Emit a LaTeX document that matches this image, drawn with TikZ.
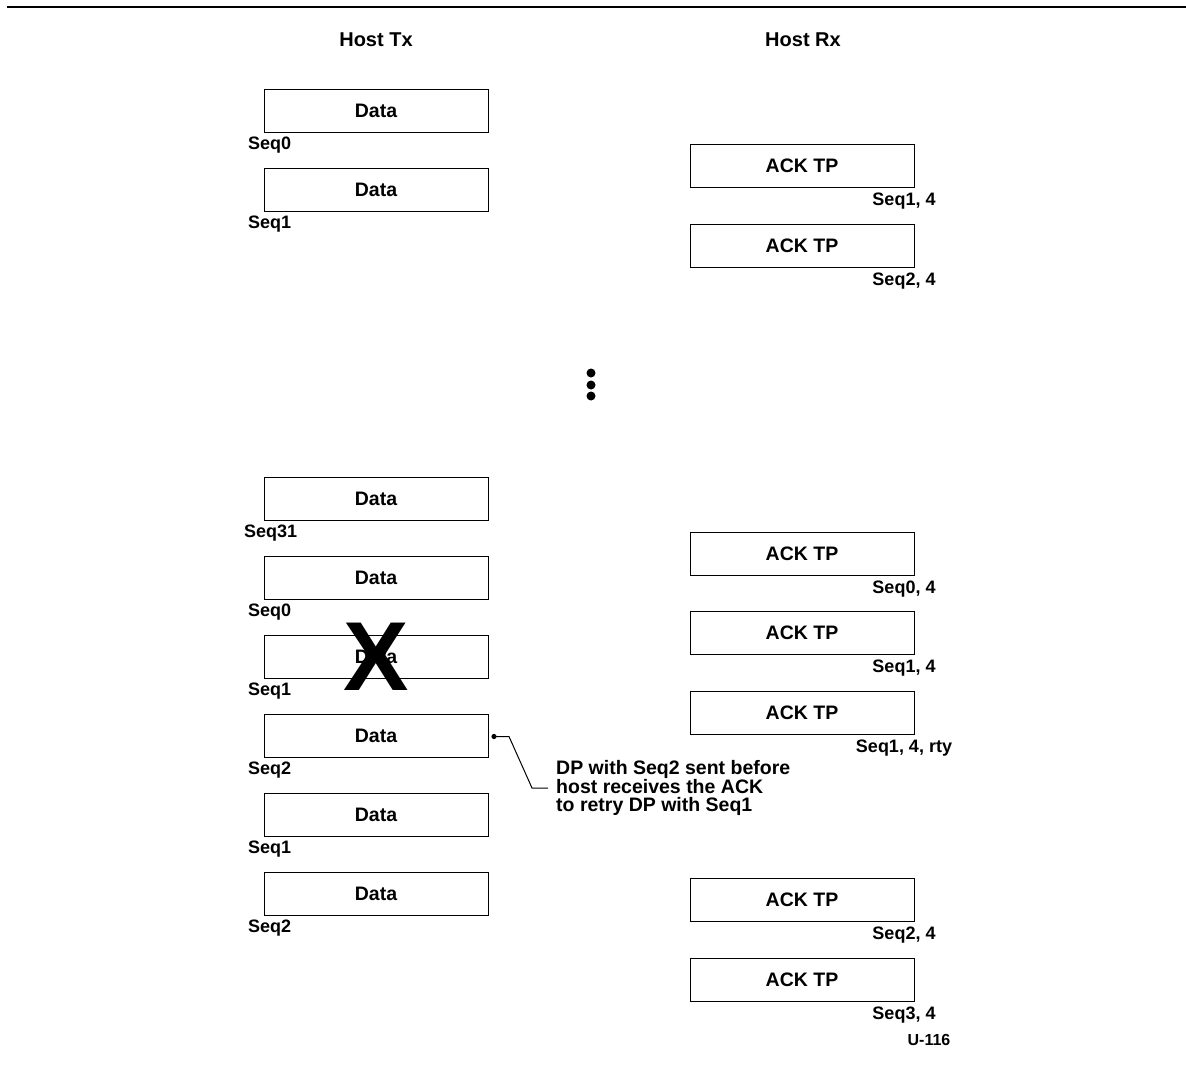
\documentclass[tikz,border=0pt]{standalone}
\usepackage{fontspec}
\setmainfont{Liberation Sans}
\begin{document}
\begin{tikzpicture}[x=1pt,y=-1pt,
  databox/.style={draw,line width=1pt,minimum width=224pt,minimum height=43pt,inner sep=0pt,font=\bfseries\fontsize{19.5}{19.5}\selectfont},
  seqlbl/.style={anchor=west,inner sep=0pt,font=\bfseries\fontsize{18}{18}\selectfont},
  acklbl/.style={anchor=center,inner sep=0pt,font=\bfseries\fontsize{18}{18}\selectfont},
  hdr/.style={inner sep=0pt,font=\bfseries\fontsize{20}{20}\selectfont},
  dotm/.style={circle,fill=black,inner sep=0pt,minimum size=9pt}]
\useasboundingbox (0,0) rectangle (1186,1068);
\draw[line width=2.2pt] (7,7) -- (1186,7);
\node[hdr] (htx) at (376,40) {Host Tx};
\node[hdr] (hrx) at (803,40) {Host Rx};
% Tx data boxes
\node[databox] (d1) at (376,110.5) {Data};
\node[seqlbl] (s1) at (248,145) {Seq0};
\node[databox] (d2) at (376,189.5) {Data};
\node[seqlbl] (s2) at (248,224) {Seq1};
\node[databox] (d3) at (376,498.5) {Data};
\node[seqlbl] (s3) at (244,533) {Seq31};
\node[databox] (d4) at (376,577.5) {Data};
\node[seqlbl] (s4) at (248,612) {Seq0};
\node[databox] (d5) at (376,656.5) {Data};
\node[seqlbl] (s5) at (248,691) {Seq1};
\node[databox] (d6) at (376,735.5) {Data};
\node[seqlbl] (s6) at (248,770) {Seq2};
\node[databox] (d7) at (376,814.5) {Data};
\node[seqlbl] (s7) at (248,849) {Seq1};
\node[databox] (d8) at (376,893.5) {Data};
\node[seqlbl] (s8) at (248,928) {Seq2};
% cross
\node[inner sep=0pt,font=\bfseries\fontsize{98}{98}\selectfont] (xx) at (376,657) {X};
% Rx ack boxes
\node[databox] (a1) at (802,165.5) {ACK TP};
\node[acklbl] (l1) at (904,201) {Seq1, 4};
\node[databox] (a2) at (802,245.5) {ACK TP};
\node[acklbl] (l2) at (904,281) {Seq2, 4};
\node[databox] (a3) at (802,553.5) {ACK TP};
\node[acklbl] (l3) at (904,589) {Seq0, 4};
\node[databox] (a4) at (802,632.5) {ACK TP};
\node[acklbl] (l4) at (904,668) {Seq1, 4};
\node[databox] (a5) at (802,712.5) {ACK TP};
\node[acklbl] (l5) at (904,748) {Seq1, 4, rty};
\node[databox] (a6) at (802,899.5) {ACK TP};
\node[acklbl] (l6) at (904,935) {Seq2, 4};
\node[databox] (a7) at (802,979.5) {ACK TP};
\node[acklbl] (l7) at (904,1015) {Seq3, 4};
\node[inner sep=0pt,font=\bfseries\fontsize{16}{16}\selectfont] (fig) at (929,1040) {U-116};
% dots
\node[dotm] (p1) at (591,373) {};
\node[dotm] (p2) at (591,385) {};
\node[dotm] (p3) at (591,396) {};
% callout
\node[anchor=west,align=left,inner sep=0pt,font=\bfseries\fontsize{19.5}{18}\selectfont] (note) at (556,788) {DP with Seq2 sent before\\host receives the ACK\\to retry DP with Seq1};
\coordinate (cdot) at (494,736.5);
\fill (cdot) circle (2.6pt);
\draw[line width=1pt] (cdot) -- (509,736.5) -- (532,788) -- ([xshift=-8pt]note.west);
\end{tikzpicture}
\end{document}
